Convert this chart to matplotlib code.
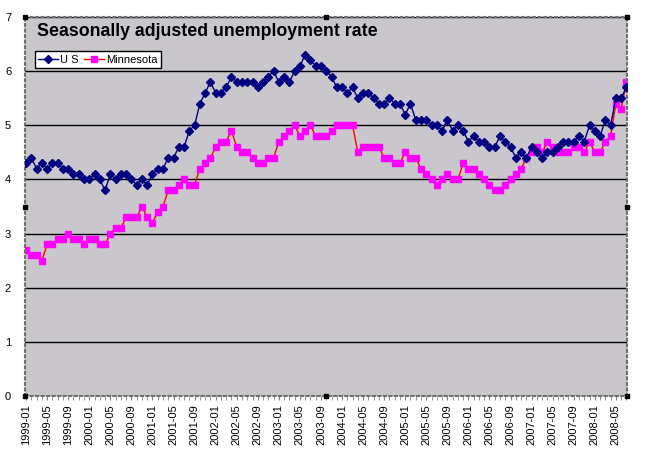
#!/usr/bin/env python3
"""
Seasonally adjusted unemployment rate, US vs Minnesota, 1999-01 to 2008-07.
"""

import matplotlib
matplotlib.use("Agg")
import matplotlib.pyplot as plt

# monthly values, 1999-01 .. 2008-07
us_rate = [
    4.3, 4.4, 4.2, 4.3, 4.2, 4.3, 4.3, 4.2, 4.2, 4.1, 4.1, 4.0,  # 1999
    4.0, 4.1, 4.0, 3.8, 4.1, 4.0, 4.1, 4.1, 4.0, 3.9, 4.0, 3.9,  # 2000
    4.1, 4.2, 4.2, 4.4, 4.4, 4.6, 4.6, 4.9, 5.0, 5.4, 5.6, 5.8,  # 2001
    5.6, 5.6, 5.7, 5.9, 5.8, 5.8, 5.8, 5.8, 5.7, 5.8, 5.9, 6.0,  # 2002
    5.8, 5.9, 5.8, 6.0, 6.1, 6.3, 6.2, 6.1, 6.1, 6.0, 5.9, 5.7,  # 2003
    5.7, 5.6, 5.7, 5.5, 5.6, 5.6, 5.5, 5.4, 5.4, 5.5, 5.4, 5.4,  # 2004
    5.2, 5.4, 5.1, 5.1, 5.1, 5.0, 5.0, 4.9, 5.1, 4.9, 5.0, 4.9,  # 2005
    4.7, 4.8, 4.7, 4.7, 4.6, 4.6, 4.8, 4.7, 4.6, 4.4, 4.5, 4.4,  # 2006
    4.6, 4.5, 4.4, 4.5, 4.5, 4.6, 4.7, 4.7, 4.7, 4.8, 4.7, 5.0,  # 2007
    4.9, 4.8, 5.1, 5.0, 5.5, 5.5, 5.7,                           # 2008
]
mn_rate = [
    2.7, 2.6, 2.6, 2.5, 2.8, 2.8, 2.9, 2.9, 3.0, 2.9, 2.9, 2.8,  # 1999
    2.9, 2.9, 2.8, 2.8, 3.0, 3.1, 3.1, 3.3, 3.3, 3.3, 3.5, 3.3,  # 2000
    3.2, 3.4, 3.5, 3.8, 3.8, 3.9, 4.0, 3.9, 3.9, 4.2, 4.3, 4.4,  # 2001
    4.6, 4.7, 4.7, 4.9, 4.6, 4.5, 4.5, 4.4, 4.3, 4.3, 4.4, 4.4,  # 2002
    4.7, 4.8, 4.9, 5.0, 4.8, 4.9, 5.0, 4.8, 4.8, 4.8, 4.9, 5.0,  # 2003
    5.0, 5.0, 5.0, 4.5, 4.6, 4.6, 4.6, 4.6, 4.4, 4.4, 4.3, 4.3,  # 2004
    4.5, 4.4, 4.4, 4.2, 4.1, 4.0, 3.9, 4.0, 4.1, 4.0, 4.0, 4.3,  # 2005
    4.2, 4.2, 4.1, 4.0, 3.9, 3.8, 3.8, 3.9, 4.0, 4.1, 4.2, 4.4,  # 2006
    4.5, 4.6, 4.5, 4.7, 4.6, 4.5, 4.5, 4.5, 4.6, 4.6, 4.5, 4.7,  # 2007
    4.5, 4.5, 4.7, 4.8, 5.4, 5.3, 5.8,                           # 2008
]
months = [f"{y}-{m:02d}" for y in range(1999, 2009) for m in range(1, 13)][:len(us_rate)]
tick_labels = months[::4]

plt.rcParams['font.family'] = ['Liberation Sans', 'DejaVu Sans']

fig = plt.figure(figsize=(6.5, 4.5), dpi=100)
ax = fig.add_axes([0.0385, 0.12, 0.926, 0.842])
ax.set_facecolor('#c9c7cc')

x = list(range(len(us_rate)))
ax.plot(x, us_rate, color='#000080', linewidth=1, marker='D', markersize=4,
        markerfacecolor='#000080', markeredgecolor='#000080', label='U S', zorder=3)
ax.plot(x, mn_rate, color='#ff0000', linewidth=1, marker='s', markersize=5,
        markerfacecolor='#ff00ff', markeredgecolor='#ff00ff', label='Minnesota', zorder=2)

ax.set_ylim(0, 7)
ax.set_xlim(-0.2, len(us_rate) - 0.9)
ax.set_yticks(range(0, 8))
ax.yaxis.grid(True, color='black', linewidth=1)
ax.set_axisbelow(True)

ax.set_xticks(x[::4])
ax.set_xticklabels(tick_labels, rotation=90, fontsize=8)
ax.set_xticks(x, minor=True)
ax.tick_params(axis='x', which='both', length=3, color='#808080', pad=3)
ax.tick_params(axis='y', length=0, pad=10, labelsize=8)

for side in ['left', 'right', 'top', 'bottom']:
    ax.spines[side].set_linestyle(':')
    ax.spines[side].set_color('#707070')
    ax.spines[side].set_linewidth(1.5)

# selection handles round the plot area
for hx, hy in [(0, 0), (0.5, 0), (1, 0), (0, 0.5), (1, 0.5), (0, 1), (0.5, 1), (1, 1)]:
    ax.plot(hx, hy, marker='s', markersize=3, color='black', transform=ax.transAxes,
            clip_on=False, zorder=5)

ax.text(0.02, 0.985, 'Seasonally adjusted unemployment rate', transform=ax.transAxes,
        fontsize=12.8, fontweight='bold', va='top', ha='left')

leg = ax.legend(loc='upper left', bbox_to_anchor=(0.016, 0.91), ncol=2, fontsize=8,
                frameon=True, fancybox=False, edgecolor='black', framealpha=1,
                handlelength=1.8, handletextpad=0.2, columnspacing=0.5,
                borderpad=0.3, borderaxespad=0)
leg.get_frame().set_linewidth(1)

plt.savefig('out.png', dpi=100)
